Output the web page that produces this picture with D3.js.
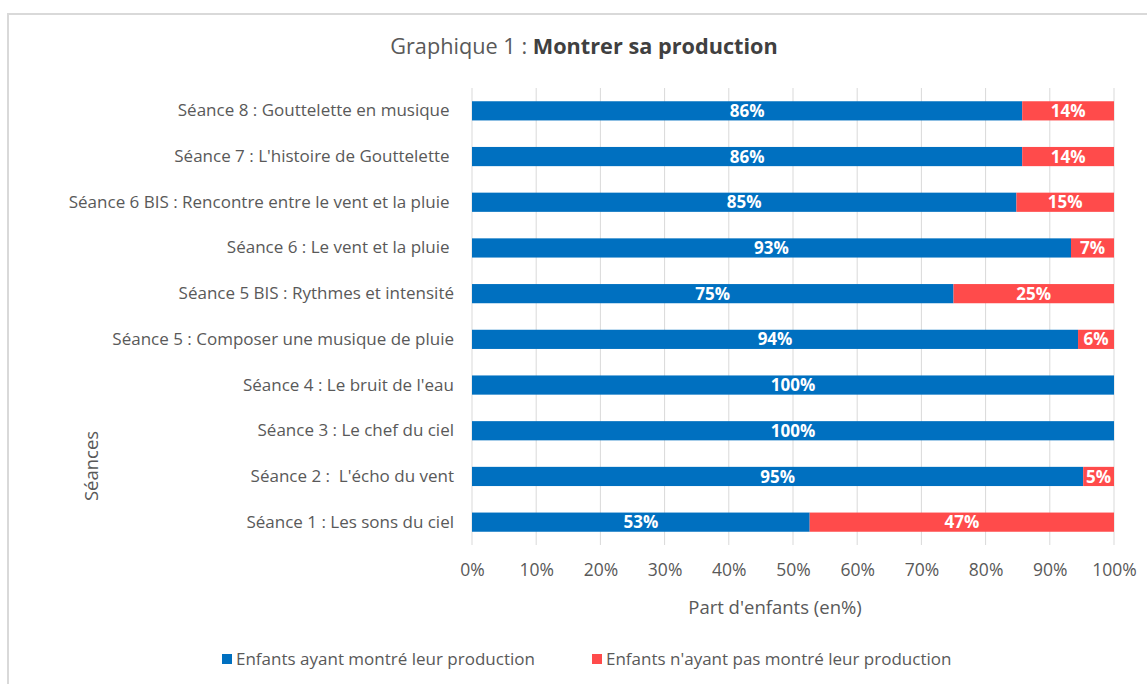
<!DOCTYPE html>
<html>
<head>
<meta charset="utf-8">
<script src="https://cdn.jsdelivr.net/npm/d3@7"></script>
<style>
  html, body { margin: 0; padding: 0; background: #fff; }
  svg { display: block; font-family: "Open Sans", Lato, sans-serif; }
</style>
</head>
<body>
<svg id="chart" width="1147" height="684"></svg>
<script>
const categories = [
  "Séance 1 : Les sons du ciel",
  "Séance 2 :  L'écho du vent",
  "Séance 3 : Le chef du ciel",
  "Séance 4 : Le bruit de l'eau",
  "Séance 5 : Composer une musique de pluie",
  "Séance 5 BIS : Rythmes et intensité",
  "Séance 6 : Le vent et la pluie ",
  "Séance 6 BIS : Rencontre entre le vent et la pluie ",
  "Séance 7 : L'histoire de Gouttelette ",
  "Séance 8 : Gouttelette en musique "
];
const shown = [52.6, 95.2, 100, 100, 94.4, 75, 93.3, 84.8, 85.7, 85.7];
const notShown = [47.4, 4.8, 0, 0, 5.6, 25, 6.7, 15.2, 14.3, 14.3];
const seriesNames = ["Enfants ayant montré leur production", "Enfants n'ayant pas montré leur production"];
const seriesColors = ["#0070C0", "#FF4B4B"];
const xTicks = [0, 10, 20, 30, 40, 50, 60, 70, 80, 90, 100];

const svg = d3.select("#chart");
const textColor = "#595959";
const font = "Open Sans";

// outer border
svg.append("rect").attr("x", 8).attr("y", 14).attr("width", 1160).attr("height", 700)
  .attr("fill", "none").attr("stroke", "#d9d9d9").attr("stroke-width", 2);

const pLeft = 472, pRight = 1114, pTop = 88, pBottom = 545;
const x = d3.scaleLinear().domain([0, 100]).range([pLeft, pRight]);
const y = d3.scaleBand().domain(categories.slice().reverse()).range([pTop, pBottom])
  .paddingInner(0.58).paddingOuter(0.29);

// gridlines
svg.append("g").selectAll("line").data(xTicks).join("line")
  .attr("x1", d => x(d)).attr("x2", d => x(d))
  .attr("y1", pTop).attr("y2", pBottom)
  .attr("stroke", "#d9d9d9").attr("stroke-width", 1);

// x axis labels
const xAxis = d3.axisBottom(x).tickValues(xTicks).tickFormat(d => d + "%").tickSize(0).tickPadding(0);
const gx = svg.append("g").attr("transform", `translate(0, ${pBottom + 19})`).call(xAxis);
gx.select(".domain").remove();
gx.selectAll("text").attr("fill", textColor).attr("font-size", 17.5).attr("font-family", font);

// y axis labels
const yAxis = d3.axisLeft(y).tickSize(0).tickPadding(0);
const gy = svg.append("g").attr("transform", `translate(${pLeft - 18}, 0)`).call(yAxis);
gy.select(".domain").remove();
gy.selectAll("text").attr("fill", textColor).attr("font-size", 17).attr("font-family", font)
  .style("white-space", "pre");

// stacked data
const rows = categories.map((c, i) => ({ cat: c, s0: shown[i], s1: notShown[i] }));
const stack = d3.stack().keys(["s0", "s1"])(rows);

const g = svg.append("g");
stack.forEach((layer, li) => {
  g.append("g").selectAll("rect").data(layer).join("rect")
    .attr("x", d => x(d[0]))
    .attr("width", d => x(d[1]) - x(d[0]))
    .attr("y", d => y(d.data.cat))
    .attr("height", y.bandwidth())
    .attr("fill", seriesColors[li]);
  g.append("g").selectAll("text").data(layer.filter(d => d[1] - d[0] > 0)).join("text")
    .attr("x", d => (x(d[0]) + x(d[1])) / 2)
    .attr("y", d => y(d.data.cat) + y.bandwidth() / 2)
    .attr("dy", "0.36em")
    .attr("text-anchor", "middle")
    .attr("fill", "#fff")
    .attr("font-weight", "bold")
    .attr("font-size", 17)
    .text(d => Math.round(d[1] - d[0]) + "%");
});

// title
const title = svg.append("text").attr("x", 584).attr("y", 54).attr("text-anchor", "middle")
  .attr("font-size", 21.7).attr("fill", textColor);
title.append("tspan").text("Graphique 1 : ");
title.append("tspan").attr("font-weight", "bold").attr("fill", "#404040").text("Montrer sa production");

// axis titles
svg.append("text").attr("x", 775).attr("y", 614).attr("text-anchor", "middle")
  .attr("font-size", 18.5).attr("fill", textColor).text("Part d'enfants (en%)");
svg.append("text").attr("transform", "translate(98, 466) rotate(-90)").attr("text-anchor", "middle")
  .attr("font-size", 18.5).attr("fill", textColor).text("Séances");

// legend
const legendX = [222, 592];
seriesNames.forEach((n, i) => {
  svg.append("rect").attr("x", legendX[i]).attr("y", 654).attr("width", 10).attr("height", 10)
    .attr("fill", seriesColors[i]);
  svg.append("text").attr("x", legendX[i] + 14).attr("y", 665).attr("font-size", 17)
    .attr("fill", textColor).text(n);
});
</script>
</body>
</html>
